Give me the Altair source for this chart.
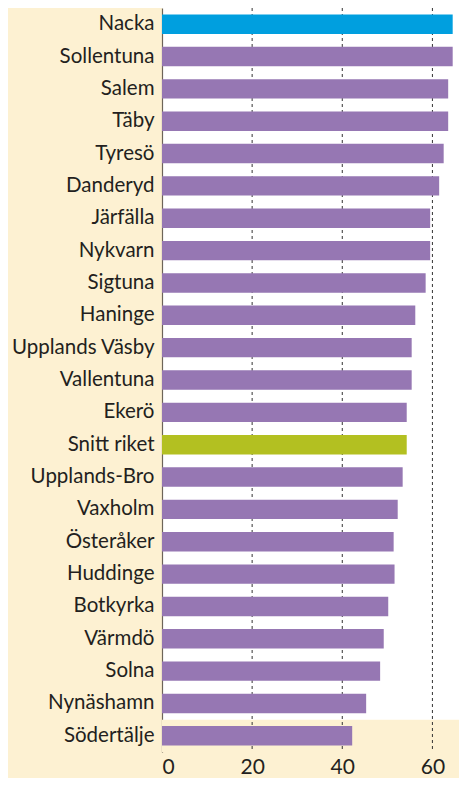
import altair as alt
import pandas as pd

kommuner = ["Nacka", "Sollentuna", "Salem", "Täby", "Tyresö", "Danderyd", "Järfälla",
            "Nykvarn", "Sigtuna", "Haninge", "Upplands Väsby", "Vallentuna", "Ekerö",
            "Snitt riket", "Upplands-Bro", "Vaxholm", "Österåker", "Huddinge", "Botkyrka",
            "Värmdö", "Solna", "Nynäshamn", "Södertälje"]
values = [64.5, 64.5, 63.5, 63.5, 62.5, 61.5, 59.5, 59.5, 58.5, 56.2, 55.4, 55.4, 54.3,
          54.3, 53.4, 52.3, 51.4, 51.6, 50.2, 49.2, 48.4, 45.3, 42.2]
colors = ["#009FDF"] + ["#9677B3"] * 12 + ["#B3C021"] + ["#9677B3"] * 9
tick_values = [0, 20, 40, 60]
grid_values = [20, 40, 60]
x_max = 65.9
shaded_rows = ["Södertälje"]

BEIGE = "#FDF1D2"
FONT = "Lato"

df = pd.DataFrame({"kommun": kommuner, "value": values, "color": colors})
shade = pd.DataFrame({"kommun": shaded_rows, "x0": [0] * len(shaded_rows), "x1": [x_max] * len(shaded_rows)})
grid = pd.DataFrame({"v": grid_values})

xscale = alt.Scale(domain=[0, x_max], nice=False, zero=True)
yscale = alt.Scale(domain=kommuner, paddingInner=0, paddingOuter=0)

yaxis = alt.Axis(title=None, domain=True, domainColor="#6d6559", domainWidth=1.2, ticks=False,
                 grid=False, labelFontSize=20.5, labelFont=FONT, labelColor="#231F20",
                 labelPadding=8, labelLimit=200)
xaxis = alt.Axis(title=None, values=tick_values, domain=False, ticks=False, grid=False,
                 labelFontSize=21, labelFont=FONT, labelColor="#231F20", labelPadding=4,
                 format="d")

bg = alt.Chart(shade).mark_bar(height=alt.RelativeBandSize(1), color=BEIGE).encode(
    y=alt.Y("kommun:N", scale=yscale, axis=yaxis, sort=kommuner),
    x=alt.X("x0:Q", scale=xscale, axis=xaxis),
    x2="x1:Q",
)

rules = alt.Chart(grid).mark_rule(color="#333333", strokeWidth=1, strokeDash=[3, 3]).encode(
    x=alt.X("v:Q", scale=xscale)
)

bars = alt.Chart(df).mark_bar(height=alt.RelativeBandSize(0.6)).encode(
    y=alt.Y("kommun:N", scale=yscale, sort=kommuner, axis=yaxis),
    x=alt.X("value:Q", scale=xscale, axis=xaxis),
    color=alt.Color("color:N", scale=None, legend=None),
)

chart = alt.layer(bg, rules, bars).properties(
    width=297, height=744,
    autosize=alt.AutoSizeParams(type="none"),
    padding={"left": 154, "top": 0, "right": 0, "bottom": 26},
    background=BEIGE,
).configure_view(fill="white", stroke=None)

chart.save("out.html", embed_options={"renderer": "svg", "actions": False})
